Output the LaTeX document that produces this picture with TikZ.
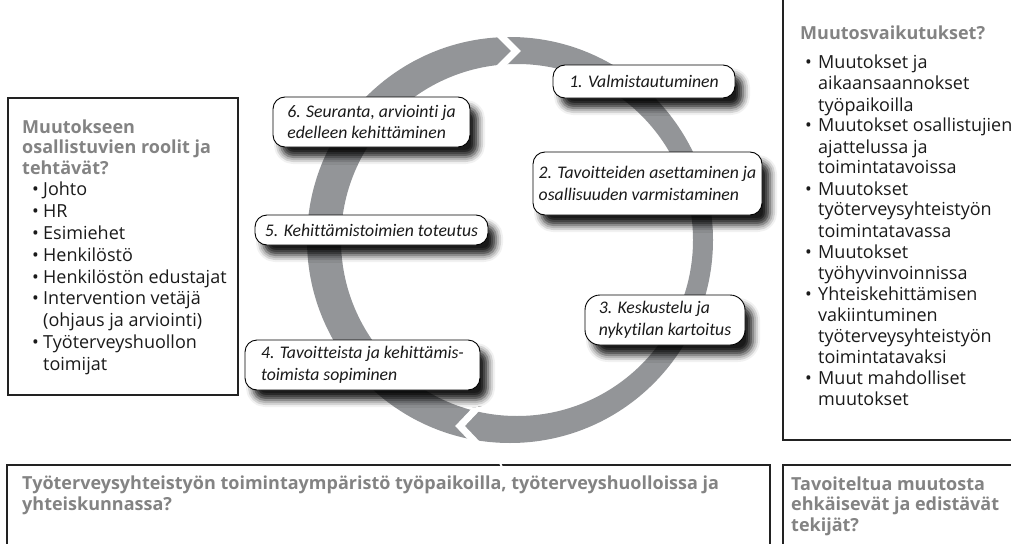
\documentclass[tikz,border=0pt]{standalone}
\usepackage{fontspec}
\setmainfont{Open Sans}
\newfontfamily\lblfont[Ligatures=NoCommon]{Carlito}
\usetikzlibrary{shadows.blur}
\definecolor{ringgray}{HTML}{939598}
\definecolor{ttlgray}{HTML}{838383}
\definecolor{txtc}{HTML}{1A1A1A}
\definecolor{framec}{HTML}{222222}
\newcommand\ttlf[1]{{\bfseries\color{ttlgray}#1}}
\newcommand\bul{\hspace*{10pt}\makebox[11pt][l]{•}}
\newcommand\ind{\hspace*{21pt}}
\newcommand\bur{\hspace*{5pt}\makebox[13pt][l]{•}}
\newcommand\inr{\hspace*{18pt}}
\tikzset{
  lbl/.style={draw=black, line width=0.9pt, fill=white, rounded corners=12pt,
    inner sep=0pt, font=\lblfont\itshape\fontsize{17.7}{21.5}\selectfont,
    text=txtc, align=left,
    blur shadow={shadow xshift=8pt, shadow yshift=-10pt, shadow blur radius=7pt, shadow opacity=90}},
  frame/.style={draw=framec, line width=1.6pt},
  boxtext/.style={anchor=base west, inner sep=0pt, text=txtc},
}
\begin{document}
\begin{tikzpicture}[x=1pt,y=-1pt]
\useasboundingbox (0,0) rectangle (1011,543);
% ring
\fill[ringgray, even odd rule] (510,240) circle[radius=203] (517,240) circle[radius=176];
\draw[white, line width=7pt, line join=miter] (496,31) -- (516,51) -- (496,71);
\draw[white, line width=7pt, line join=miter] (480,405) -- (460,426) -- (480,447);
% frames
\draw[frame] (8,98) rectangle (238,395);
\draw[frame] (783,-5) rectangle (1020,440);
\draw[frame] (7,465) rectangle (770,560);
\draw[frame] (783,465) rectangle (1020,560);
\draw[white, line width=2pt] (499,461) -- (503,469);
% labels
\node[lbl, minimum width=182pt, minimum height=33pt] (s1) at (644,81.5) {1. Valmistautuminen};
\node[lbl, minimum width=229pt, minimum height=63pt] (s2) at (647.5,183.5) {2. Tavoitteiden asettaminen ja\\osallisuuden varmistaminen};
\node[lbl, minimum width=160pt, minimum height=50pt, rounded corners=15pt] (s3) at (665,320) {3. Keskustelu ja\\nykytilan kartoitus};
\node[lbl, minimum width=235pt, minimum height=50pt] (s4) at (362.5,365) {4. Tavoitteista ja kehittämis-\\toimista sopiminen};
\node[lbl, minimum width=233pt, minimum height=30pt] (s5) at (371.5,230) {5. Kehittämistoimien toteutus};
\node[lbl, minimum width=197pt, minimum height=50pt] (s6) at (371.5,122) {6. Seuranta, arviointi ja\\edelleen kehittäminen};
% box texts
\node[boxtext, font=\fontsize{18}{21.8}\selectfont] (roles) at (22,133) {\begin{tabular}[t]{@{}l@{}}
\ttlf{Muutokseen}\\[-1.3pt]
\ttlf{osallistuvien roolit ja}\\[-1.3pt]
\ttlf{tehtävät?}\\
\bul Johto\\
\bul HR\\
\bul Esimiehet\\
\bul Henkilöstö\\
\bul Henkilöstön edustajat\\
\bul Intervention vetäjä\\
\ind (ohjaus ja arviointi)\\
\bul Työterveyshuollon\\
\ind toimijat
\end{tabular}};
\node[boxtext, font=\fontsize{18}{21}\selectfont] (effects) at (800,40) {\begin{tabular}[t]{@{}l@{}}
\ttlf{Muutosvaikutukset?}\\[8pt]
\bur Muutokset ja\\
\inr aikaansaannokset\\
\inr työpaikoilla\\
\bur Muutokset osallistujien\\
\inr ajattelussa ja\\
\inr toimintatavoissa\\
\bur Muutokset\\
\inr työterveysyhteistyön\\
\inr toimintatavassa\\
\bur Muutokset\\
\inr työhyvinvoinnissa\\
\bur Yhteiskehittämisen\\
\inr vakiintuminen\\
\inr työterveysyhteistyön\\
\inr toimintatavaksi\\
\bur Muut mahdolliset\\
\inr muutokset
\end{tabular}};
\node[boxtext, font=\fontsize{18}{21}\selectfont] (env) at (22,489) {\begin{tabular}[t]{@{}l@{}}
\ttlf{Työterveysyhteistyön toimintaympäristö työpaikoilla, työterveyshuolloissa ja}\\
\ttlf{yhteiskunnassa?}
\end{tabular}};
\node[boxtext, font=\fontsize{18}{20.5}\selectfont] (factors) at (791,490) {\begin{tabular}[t]{@{}l@{}}
\ttlf{Tavoiteltua muutosta}\\
\ttlf{ehkäisevät ja edistävät}\\
\ttlf{tekijät?}
\end{tabular}};
\end{tikzpicture}
\end{document}
